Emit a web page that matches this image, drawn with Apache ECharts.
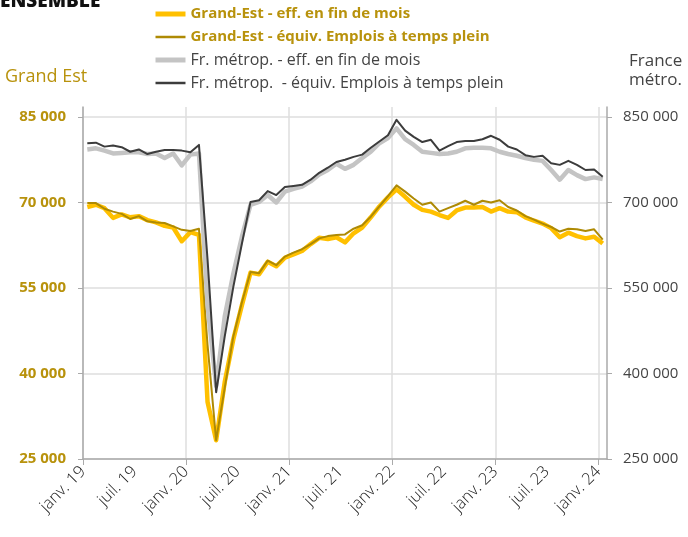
<!DOCTYPE html>
<html>
<head>
<meta charset="utf-8">
<script src="https://cdn.jsdelivr.net/npm/echarts@6.0.0/dist/echarts.min.js"></script>
<style>
  html, body { margin: 0; padding: 0; background: #fff; }
  #chart { width: 688px; height: 537px; }
</style>
</head>
<body>
<div id="chart"></div>
<script>
// mois de janv. 2019 (0) à janv. 2024 (60)
const xLabels = ['janv. 19', 'juil. 19', 'janv. 20', 'juil. 20', 'janv. 21', 'juil. 21',
  'janv. 22', 'juil. 22', 'janv. 23', 'juil. 23', 'janv. 24'];

const geEff = [
  69200, 69600, 69000, 67300, 67900, 67400, 67600, 66900, 66500, 65900, 65600, 63200,
  64800, 64300, 35000, 28300, 38500, 46000, 52000, 57700, 57400, 59600, 58800, 60300,
  60900, 61500, 62700, 63800, 63600, 63900, 63000, 64600, 65600, 67400, 69300, 70900,
  72300, 71000, 69600, 68700, 68400, 67800, 67300, 68600, 69100, 69100, 69200, 68400,
  69000, 68400, 68300, 67400, 66800, 66300, 65500, 63900, 64700, 64100, 63700, 64000,
  62800,
];

const geEtp = [
  69900, 69900, 68900, 68400, 68000, 67100, 67600, 66700, 66500, 66400, 65800, 65200,
  65000, 65400, 45000, 28300, 37500, 46500, 52500, 57800, 57600, 59800, 59000, 60500,
  61200, 61800, 62700, 63700, 64100, 64300, 64400, 65400, 66000, 67500, 69300, 71100,
  73000, 71900, 70700, 69600, 70000, 68400, 69000, 69600, 70300, 69600, 70300, 70000,
  70400, 69200, 68600, 67600, 67000, 66300, 65700, 64900, 65400, 65300, 65000, 65300,
  63500,
];

const frEff = [
  793000, 795000, 791000, 786000, 787000, 788000, 788000, 785000, 786000, 778000, 786000, 765000,
  784000, 786000, 520000, 378000, 500000, 575000, 640000, 696000, 701000, 713000, 700000, 719000,
  724000, 728000, 737000, 749000, 757000, 768000, 759000, 766000, 778000, 789000, 804000, 813000,
  830000, 811000, 801000, 789000, 787000, 785000, 786000, 789000, 795000, 796000, 796000, 795000,
  789000, 785000, 782000, 778000, 775000, 773000, 757000, 740000, 757000, 748000, 741000, 744000,
  741000,
];

const frEtp = [
  804000, 805000, 798000, 800000, 797000, 789000, 793000, 785000, 789000, 792000, 792000, 791000,
  788000, 801000, 600000, 367000, 465000, 552000, 628000, 701000, 704000, 720000, 713000, 727000,
  729000, 731000, 740000, 752000, 761000, 771000, 775000, 780000, 784000, 796000, 807000, 818000,
  845000, 826000, 815000, 806000, 810000, 791000, 799000, 806000, 808000, 808000, 811000, 817000,
  810000, 798000, 793000, 783000, 780000, 782000, 769000, 766000, 773000, 766000, 757000, 758000,
  745000,
];

const leftTicks = [25000, 40000, 55000, 70000, 85000];
const rightTicks = [250000, 400000, 550000, 700000, 850000];

const GOLD = '#b8920c';
const GREY_TXT = '#444';
const FONT = '"Open Sans", Lato, sans-serif';

// point au milieu du mois
const toPoints = arr => arr.map((v, i) => [i + 0.5, v]);
const fmtNum = v => String(v).replace(/\B(?=(\d{3})+(?!\d))/g, ' ');

const chart = echarts.init(document.getElementById('chart'));

const option = {
  animation: false,
  textStyle: { fontFamily: FONT },
  graphic: [
    {
      type: 'text', left: 0, top: -8,
      style: { text: 'ENSEMBLE', fontSize: 19, fontWeight: 800, fill: '#111', fontFamily: FONT },
    },
    {
      type: 'text', left: 5, top: 68,
      style: { text: 'Grand Est', fontSize: 18, fill: GOLD, fontFamily: FONT },
    },
    {
      type: 'text', left: 629, top: 52,
      style: { text: 'France\nmétro.', fontSize: 17, lineHeight: 19, fill: GREY_TXT, fontFamily: FONT },
    },
  ],
  legend: {
    orient: 'vertical',
    left: 153,
    top: 5,
    padding: 0,
    itemWidth: 30,
    itemHeight: 18,
    itemGap: 5,
    itemStyle: { opacity: 0 },
    textStyle: { fontSize: 16, lineHeight: 18, fontFamily: FONT },
    data: [
      {
        name: 'Grand-Est - eff. en fin de mois',
        lineStyle: { width: 5 },
        textStyle: { color: GOLD, fontWeight: 'bold', fontSize: 15 },
      },
      {
        name: 'Grand-Est - équiv. Emplois à temps plein',
        lineStyle: { width: 2.5 },
        textStyle: { color: GOLD, fontWeight: 'bold', fontSize: 15 },
      },
      { name: 'Fr. métrop. - eff. en fin de mois', lineStyle: { width: 5 }, textStyle: { color: GREY_TXT } },
      { name: 'Fr. métrop.  - équiv. Emplois à temps plein', lineStyle: { width: 2.5 }, textStyle: { color: GREY_TXT } },
    ],
  },
  grid: { left: 83, right: 81, top: 107, bottom: 78 },
  xAxis: {
    type: 'value',
    min: 0,
    max: 61,
    axisLine: { show: true, lineStyle: { color: '#aaa', width: 1.5 } },
    axisTick: { show: true, length: 6, customValues: [0, 12, 24, 36, 48, 60], lineStyle: { color: '#aaa' } },
    splitLine: { show: true, lineStyle: { color: '#dedede', width: 1.5 } },
    axisLabel: {
      customValues: [0, 6, 12, 18, 24, 30, 36, 42, 48, 54, 60],
      formatter: v => xLabels[Math.round(v / 6)] || '',
      rotate: 45,
      margin: 10,
      fontSize: 16.5,
      color: '#222',
      fontWeight: 300,
    },
  },
  yAxis: [
    {
      type: 'value',
      min: 25000,
      max: 86750,
      axisLine: { show: true, lineStyle: { color: '#aaa', width: 1.5 } },
      axisTick: { show: true, length: 5, customValues: leftTicks, lineStyle: { color: '#aaa' } },
      splitLine: { show: true, lineStyle: { color: '#dedede', width: 1.5 } },
      axisLabel: {
        customValues: leftTicks,
        formatter: fmtNum,
        margin: 17,
        fontSize: 15,
        fontWeight: 'bold',
        color: GOLD,
      },
    },
    {
      type: 'value',
      min: 250000,
      max: 867500,
      position: 'right',
      axisLine: { show: true, lineStyle: { color: '#aaa', width: 1.5 } },
      axisTick: { show: true, length: 5, customValues: rightTicks, lineStyle: { color: '#aaa' } },
      splitLine: { show: false },
      axisLabel: {
        customValues: rightTicks,
        formatter: fmtNum,
        margin: 16,
        fontSize: 15,
        color: GREY_TXT,
      },
    },
  ],
  series: [
    {
      name: 'Grand-Est - eff. en fin de mois',
      type: 'line',
      yAxisIndex: 0,
      symbol: 'none',
      lineStyle: { color: '#ffc000', width: 4.5, join: 'round' },
      itemStyle: { color: '#ffc000' },
      data: toPoints(geEff),
    },
    {
      name: 'Grand-Est - équiv. Emplois à temps plein',
      type: 'line',
      yAxisIndex: 0,
      symbol: 'none',
      lineStyle: { color: '#ae8a04', width: 2, join: 'round' },
      itemStyle: { color: '#ae8a04' },
      data: toPoints(geEtp),
    },
    {
      name: 'Fr. métrop. - eff. en fin de mois',
      type: 'line',
      yAxisIndex: 1,
      symbol: 'none',
      lineStyle: { color: '#c4c4c4', width: 4.5, join: 'round' },
      itemStyle: { color: '#c4c4c4' },
      data: toPoints(frEff),
    },
    {
      name: 'Fr. métrop.  - équiv. Emplois à temps plein',
      type: 'line',
      yAxisIndex: 1,
      symbol: 'none',
      lineStyle: { color: '#3c3c3c', width: 2, join: 'round' },
      itemStyle: { color: '#3c3c3c' },
      data: toPoints(frEtp),
    },
  ],
};

chart.setOption(option);
</script>
</body>
</html>
